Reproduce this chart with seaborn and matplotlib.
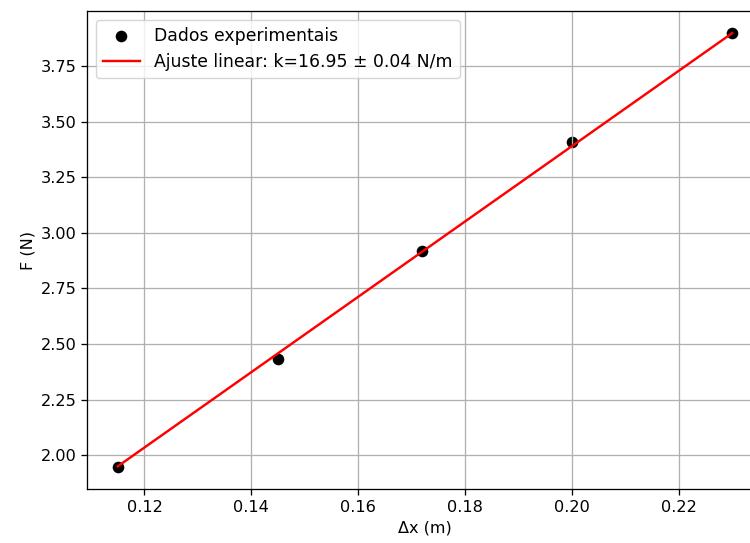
import matplotlib
matplotlib.use("Agg")
import matplotlib.pyplot as plt
import seaborn as sns
import numpy as np

# medidas: deformacao da mola (m) e forca aplicada (N)
dx = np.array([0.115, 0.145, 0.172, 0.200, 0.230])
F = np.array([1.945, 2.43, 2.92, 3.41, 3.90])
k = 16.95
k_err = 0.04

plt.rcParams.update({
    "font.size": 11.6,
    "axes.linewidth": 0.93,
    "grid.linewidth": 0.93,
    "xtick.major.size": 4.1,
    "ytick.major.size": 4.1,
    "xtick.major.width": 0.93,
    "ytick.major.width": 0.93,
})

fig = plt.figure(figsize=(7.5, 5.43), dpi=100)
ax = fig.add_axes([0.116, 0.0994, 0.9013, 0.8803])

sns.scatterplot(x=dx, y=F, color="black", s=70, linewidth=0,
                label="Dados experimentais", ax=ax)
sns.lineplot(x=dx, y=k * dx, color="red", linewidth=1.75,
             label=f"Ajuste linear: k={k:.2f} ± {k_err:.2f} N/m", ax=ax)

ax.set_xlabel("Δx (m)")
ax.set_ylabel("F (N)")
ax.grid(True)
ax.legend(loc="upper left", fontsize=12.4, handlelength=2.2)

plt.savefig("out.png", dpi=100)
